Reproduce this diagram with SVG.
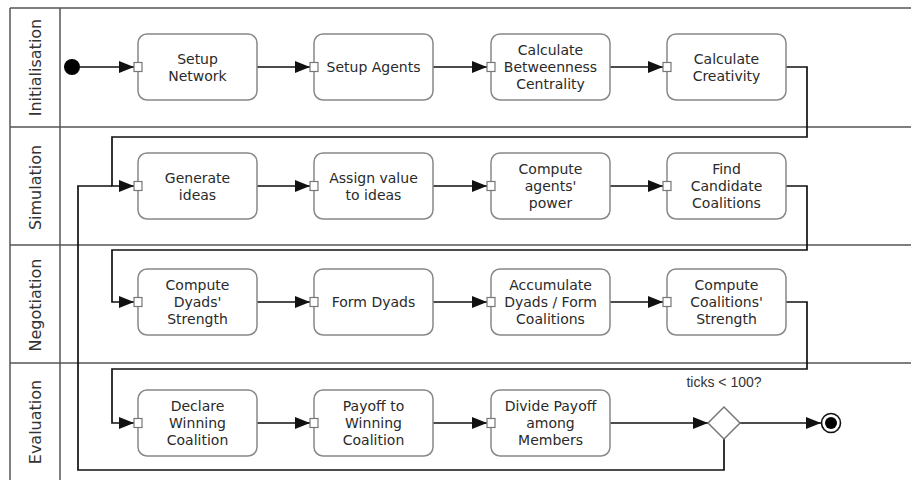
<svg xmlns="http://www.w3.org/2000/svg" width="911" height="480" viewBox="0 0 911 480">
<style>
.frame{stroke:#555;stroke-width:1.5;fill:none}
.lane{font-family:"DejaVu Sans",Verdana,sans-serif;font-size:16px;fill:#333;text-anchor:middle;dominant-baseline:central}
.node rect.box{fill:#fff;stroke:#888;stroke-width:1.5}
.node rect.port{fill:#fff;stroke:#777;stroke-width:1.2}
.node text{font-family:"DejaVu Sans",Verdana,sans-serif;font-size:14px;fill:#2a2a2a;text-anchor:middle;dominant-baseline:central}
.conn{stroke:#111;stroke-width:1.7;fill:none}
.arr{marker-end:url(#ah)}
.lbl{font-family:"Liberation Sans",Arial,sans-serif;font-size:14px;fill:#333;text-anchor:middle}
</style>
<defs>
<marker id="ah" markerWidth="15" markerHeight="12" refX="15" refY="6" orient="auto" markerUnits="userSpaceOnUse">
<path d="M0,0 L15,6 L0,12 z" fill="#111"/>
</marker>
</defs>
<rect width="911" height="480" fill="#fff"/>
<g id="lanes">
<line class="frame" x1="10" y1="8" x2="911" y2="8"/>
<line class="frame" x1="10" y1="8" x2="10" y2="480"/>
<line class="frame" x1="60" y1="8" x2="60" y2="480"/>
<line class="frame" x1="10" y1="127" x2="911" y2="127"/>
<line class="frame" x1="10" y1="245" x2="911" y2="245"/>
<line class="frame" x1="10" y1="363" x2="911" y2="363"/>
<text class="lane" transform="translate(35,67.5) rotate(-90)">Initialisation</text>
<text class="lane" transform="translate(35,187.5) rotate(-90)">Simulation</text>
<text class="lane" transform="translate(35,305) rotate(-90)">Negotiation</text>
<text class="lane" transform="translate(35,422) rotate(-90)">Evaluation</text>
</g>
<g id="connectors">
<path class="conn arr" d="M80,67 H134"/>
<path class="conn arr" d="M257,67 H310"/>
<path class="conn arr" d="M433,67 H487"/>
<path class="conn arr" d="M610,67 H663"/>
<path class="conn arr" d="M786,67 H807 V137 H112 V186 H134"/>
<path class="conn" d="M724,438 V470 H78 V186 H112"/>
<path class="conn arr" d="M257,186 H310"/>
<path class="conn arr" d="M433,186 H487"/>
<path class="conn arr" d="M610,186 H663"/>
<path class="conn arr" d="M786,186 H807 V250 H112 V302 H134"/>
<path class="conn arr" d="M257,302 H310"/>
<path class="conn arr" d="M433,302 H487"/>
<path class="conn arr" d="M610,302 H663"/>
<path class="conn arr" d="M786,302 H807 V369 H112 V423 H134"/>
<path class="conn arr" d="M257,423 H310"/>
<path class="conn arr" d="M433,423 H487"/>
<path class="conn arr" d="M610,423 H708"/>
<path class="conn arr" d="M740,423 H821"/>
<text class="lbl" x="724" y="387">ticks &lt; 100?</text>
</g>
<g id="start"><circle cx="72" cy="67" r="8" fill="#000"/></g>
<g id="n1" class="node"><rect class="box" x="138" y="34" width="119" height="66" rx="9"/><rect class="port" x="134" y="62.5" width="8" height="9"/><text x="197.5" y="58.5">Setup</text><text x="197.5" y="75.5">Network</text></g>
<g id="n2" class="node"><rect class="box" x="314" y="34" width="119" height="66" rx="9"/><rect class="port" x="310" y="62.5" width="8" height="9"/><text x="373.5" y="67">Setup Agents</text></g>
<g id="n3" class="node"><rect class="box" x="491" y="34" width="119" height="66" rx="9"/><rect class="port" x="487" y="62.5" width="8" height="9"/><text x="550.5" y="50">Calculate</text><text x="550.5" y="67">Betweenness</text><text x="550.5" y="84">Centrality</text></g>
<g id="n4" class="node"><rect class="box" x="667" y="34" width="119" height="66" rx="9"/><rect class="port" x="663" y="62.5" width="8" height="9"/><text x="726.5" y="58.5">Calculate</text><text x="726.5" y="75.5">Creativity</text></g>
<g id="n5" class="node"><rect class="box" x="138" y="153" width="119" height="66" rx="9"/><rect class="port" x="134" y="181.5" width="8" height="9"/><text x="197.5" y="177.5">Generate</text><text x="197.5" y="194.5">ideas</text></g>
<g id="n6" class="node"><rect class="box" x="314" y="153" width="119" height="66" rx="9"/><rect class="port" x="310" y="181.5" width="8" height="9"/><text x="373.5" y="177.5">Assign value</text><text x="373.5" y="194.5">to ideas</text></g>
<g id="n7" class="node"><rect class="box" x="491" y="153" width="119" height="66" rx="9"/><rect class="port" x="487" y="181.5" width="8" height="9"/><text x="550.5" y="169">Compute</text><text x="550.5" y="186">agents'</text><text x="550.5" y="203">power</text></g>
<g id="n8" class="node"><rect class="box" x="667" y="153" width="119" height="66" rx="9"/><rect class="port" x="663" y="181.5" width="8" height="9"/><text x="726.5" y="169">Find</text><text x="726.5" y="186">Candidate</text><text x="726.5" y="203">Coalitions</text></g>
<g id="n9" class="node"><rect class="box" x="138" y="269" width="119" height="66" rx="9"/><rect class="port" x="134" y="297.5" width="8" height="9"/><text x="197.5" y="285">Compute</text><text x="197.5" y="302">Dyads'</text><text x="197.5" y="319">Strength</text></g>
<g id="n10" class="node"><rect class="box" x="314" y="269" width="119" height="66" rx="9"/><rect class="port" x="310" y="297.5" width="8" height="9"/><text x="373.5" y="302">Form Dyads</text></g>
<g id="n11" class="node"><rect class="box" x="491" y="269" width="119" height="66" rx="9"/><rect class="port" x="487" y="297.5" width="8" height="9"/><text x="550.5" y="285">Accumulate</text><text x="550.5" y="302">Dyads / Form</text><text x="550.5" y="319">Coalitions</text></g>
<g id="n12" class="node"><rect class="box" x="667" y="269" width="119" height="66" rx="9"/><rect class="port" x="663" y="297.5" width="8" height="9"/><text x="726.5" y="285">Compute</text><text x="726.5" y="302">Coalitions'</text><text x="726.5" y="319">Strength</text></g>
<g id="n13" class="node"><rect class="box" x="138" y="390" width="119" height="66" rx="9"/><rect class="port" x="134" y="418.5" width="8" height="9"/><text x="197.5" y="406">Declare</text><text x="197.5" y="423">Winning</text><text x="197.5" y="440">Coalition</text></g>
<g id="n14" class="node"><rect class="box" x="314" y="390" width="119" height="66" rx="9"/><rect class="port" x="310" y="418.5" width="8" height="9"/><text x="373.5" y="406">Payoff to</text><text x="373.5" y="423">Winning</text><text x="373.5" y="440">Coalition</text></g>
<g id="n15" class="node"><rect class="box" x="491" y="390" width="119" height="66" rx="9"/><rect class="port" x="487" y="418.5" width="8" height="9"/><text x="550.5" y="406">Divide Payoff</text><text x="550.5" y="423">among</text><text x="550.5" y="440">Members</text></g>
<g id="decision"><path d="M708,423 L724,407 L740,423 L724,439 z" fill="#fff" stroke="#777" stroke-width="1.5"/></g>
<g id="end"><circle cx="831" cy="423" r="9.5" fill="#fff" stroke="#111" stroke-width="1.6"/><circle cx="831" cy="423" r="6" fill="#000"/></g>
</svg>
